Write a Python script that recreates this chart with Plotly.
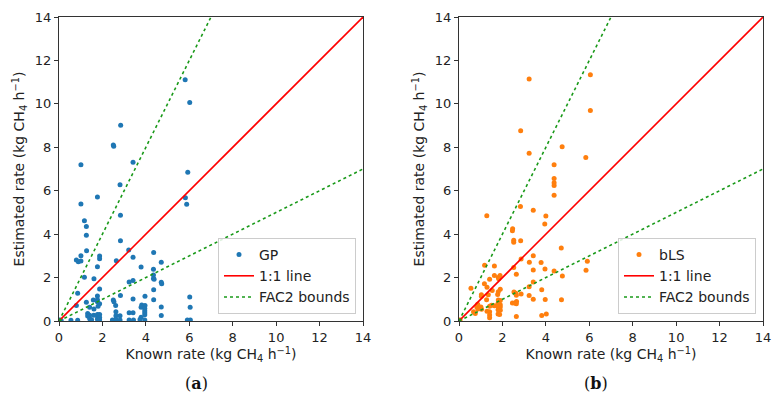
import plotly.graph_objects as go

# ---- data ----
gp_x = [5.81,6.02,2.84,2.50,2.52,3.41,1.01,5.93,2.81,1.77,5.82,1.01,5.88,2.83,1.17,1.26,1.26,2.83,1.27,3.21,4.36,1.01,0.80,0.89,1.01,1.87,1.87,2.64,3.41,4.71,3.78,1.77,4.35,4.35,4.35,4.38,4.71,4.73,1.17,1.61,3.23,3.41,1.87,0.86,4.36,6.02,6.04,4.71,3.96,4.36,3.41,2.83,2.50,2.53,2.61,1.77,1.77,1.77,1.58,1.26,0.80,1.87,1.80,1.41,1.61,3.81,3.96,3.78,3.95,3.95,3.95,3.95,3.23,3.41,2.62,2.62,2.81,1.32,1.41,1.32,1.60,1.77,1.78,1.87,1.87,1.41,1.50,1.77,1.87,2.46,2.62,2.81,3.23,3.43,3.78,3.73,3.95,4.71,5.91,6.05,0.55,0.86,0.05,0.10]
gp_y = [11.11,10.06,9.02,8.11,8.05,7.31,7.19,6.85,6.28,5.71,5.68,5.39,5.38,4.87,4.62,4.35,3.95,3.70,3.24,3.27,3.16,3.01,2.81,2.73,2.76,2.99,2.87,2.78,2.94,2.70,2.49,2.50,2.38,2.12,1.96,1.92,1.78,1.72,2.01,1.95,1.80,1.86,1.47,1.28,1.44,1.11,0.63,0.65,1.14,0.98,1.01,1.17,0.97,0.89,0.71,1.15,0.98,0.89,0.97,0.86,0.71,0.79,0.68,0.63,0.55,0.74,0.71,0.63,0.58,0.47,0.38,0.29,0.38,0.38,0.43,0.24,0.24,0.35,0.27,0.23,0.27,0.30,0.18,0.30,0.16,0.10,0.06,0.08,0.06,0.05,0.08,0.05,0.05,0.05,0.17,0.07,0.05,0.25,0.05,0.05,0.03,0.03,0.05,0.02]

bls_x = [3.23,6.05,6.05,2.84,3.23,4.75,5.84,4.38,4.38,4.38,4.38,4.38,2.83,1.28,3.42,4.00,3.95,2.47,2.46,2.52,2.52,2.84,4.71,3.42,2.86,1.18,1.63,3.24,3.78,2.52,3.42,3.96,5.91,5.85,4.38,2.64,4.76,1.63,1.81,1.89,1.83,1.41,1.17,1.29,0.55,3.42,3.23,3.81,1.90,1.53,1.03,1.03,1.35,1.81,1.78,2.53,2.62,2.86,3.23,3.42,3.97,4.72,2.64,1.27,1.81,1.90,1.63,1.41,1.50,1.80,1.90,1.81,1.90,2.46,2.57,2.65,2.64,0.86,0.82,1.01,0.87,1.04,1.29,0.67,0.75,1.41,1.41,1.80,1.90,1.80,1.87,1.41,2.64,3.81,4.02,0.05]
bls_y = [11.15,11.34,9.69,8.76,7.73,8.02,7.53,7.19,6.56,6.37,6.24,5.79,5.27,4.85,5.10,4.84,4.47,4.25,4.16,3.72,3.63,3.69,3.36,3.01,2.86,2.57,2.53,2.70,2.69,2.46,2.35,2.40,2.75,2.34,2.30,2.15,2.07,2.10,2.00,2.10,1.95,1.92,1.72,1.55,1.51,1.80,1.58,1.44,1.46,1.40,1.21,1.14,1.21,1.35,1.22,1.33,1.28,1.24,1.17,1.00,0.99,0.98,1.19,0.98,0.97,0.94,0.70,0.68,0.72,0.82,0.75,0.66,0.65,0.83,0.83,0.90,0.80,0.77,0.65,0.65,0.55,0.54,0.45,0.43,0.35,0.43,0.28,0.52,0.49,0.32,0.30,0.15,0.21,0.25,0.32,0.05]

axis_max = 14
fac = 2
tick_vals = [0, 2, 4, 6, 8, 10, 12, 14]

one_x = [0, axis_max]
one_y = [0, axis_max]
fac_x = [0, axis_max / fac, None, 0, axis_max]
fac_y = [0, axis_max, None, 0, axis_max / fac]

BLUE = "#1f77b4"
ORANGE = "#ff7f0e"
RED = "#ff0000"
GREEN = "#1a9a1a"

fig = go.Figure()

panels = [
    ("x", "y", "legend", "GP", gp_x, gp_y, BLUE),
    ("x2", "y2", "legend2", "bLS", bls_x, bls_y, ORANGE),
]
for xa, ya, lg, name, xs, ys, col in panels:
    fig.add_trace(go.Scatter(x=xs, y=ys, mode="markers", name=name,
                             marker=dict(color=col, size=5, line=dict(width=0)),
                             xaxis=xa, yaxis=ya, legend=lg, cliponaxis=True))
    fig.add_trace(go.Scatter(x=one_x, y=one_y, mode="lines", name="1:1 line",
                             line=dict(color=RED, width=1.6),
                             xaxis=xa, yaxis=ya, legend=lg))
    fig.add_trace(go.Scatter(x=fac_x, y=fac_y, mode="lines", name="FAC2 bounds",
                             line=dict(color=GREEN, width=1.6, dash="dot"),
                             xaxis=xa, yaxis=ya, legend=lg))

FONT = "DejaVu Sans"
ax_common = dict(range=[0, axis_max], tickvals=tick_vals, showgrid=False, zeroline=False,
                 showline=True, linecolor="#333333", linewidth=1, mirror=True,
                 ticks="outside", ticklen=4, tickcolor="#333333", automargin=False,
                 tickfont=dict(family=FONT, size=13, color="#222222"))

xtitle = "Known rate (kg CH<sub>4</sub> h<sup>−1</sup>)"
ytitle = "Estimated rate (kg CH<sub>4</sub> h<sup>−1</sup>)"
ydom = [(401 - 321) / 401, (401 - 17) / 401]

leg_common = dict(y=(401 - 314) / 401, xanchor="right", yanchor="bottom",
                  bgcolor="rgba(255,255,255,0.85)", bordercolor="#cccccc", borderwidth=1,
                  font=dict(family=FONT, size=14), itemwidth=30, tracegroupgap=0)

fig.update_layout(
    width=774, height=401,
    margin=dict(l=0, r=0, t=0, b=0, autoexpand=False),
    paper_bgcolor="white", plot_bgcolor="white",
    font=dict(family=FONT, color="#222222"),
    xaxis=dict(domain=[59 / 774, 363 / 774], anchor="y",
               title=dict(text=xtitle, font=dict(family=FONT, size=14), standoff=4), **ax_common),
    yaxis=dict(domain=ydom, anchor="x",
               title=dict(text=ytitle, font=dict(family=FONT, size=14), standoff=6), **ax_common),
    xaxis2=dict(domain=[459 / 774, 763 / 774], anchor="y2",
                title=dict(text=xtitle, font=dict(family=FONT, size=14), standoff=4), **ax_common),
    yaxis2=dict(domain=ydom, anchor="x2",
                title=dict(text=ytitle, font=dict(family=FONT, size=14), standoff=6), **ax_common),
    legend=dict(x=356 / 774, **leg_common),
    legend2=dict(x=756 / 774, **leg_common),
    showlegend=True,
)

for label, xc in (("a", 196), ("b", 596)):
    fig.add_annotation(text=f"(<b>{label}</b>)", x=xc / 774, y=(401 - 383) / 401,
                       xref="paper", yref="paper", showarrow=False,
                       xanchor="center", yanchor="middle",
                       font=dict(family="DejaVu Serif", size=16, color="#111111"))

fig.write_html("out.html", config={"displayModeBar": False},
               post_script="document.body.style.margin='0';")
